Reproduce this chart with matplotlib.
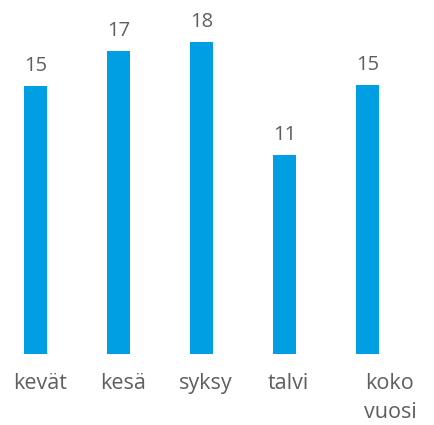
import matplotlib
matplotlib.use('Agg')
from matplotlib import pyplot as plt
import numpy as np

plt.rcParams['font.family'] = ['Open Sans', 'DejaVu Sans']

# categories and values
categories = ['kevät', 'kesä', 'syksy', 'talvi', 'koko\nvuosi']
values = [15.2, 17.2, 17.7, 11.3, 15.3]
value_labels = ['15', '17', '18', '11', '15']

bar_color = '#009fe3'
text_color = '#5f5f5f'

fig = plt.figure(figsize=(4.35, 4.25), dpi=100)
ax = fig.add_axes([0, 0, 1, 1])

x = np.arange(len(categories))
bars = ax.bar(x, values, width=0.277, color=bar_color)

# value labels above the bars
for b, lab in zip(bars, value_labels):
    ax.annotate(lab, (b.get_x() + b.get_width() / 2, b.get_height()),
                xytext=(0, 10), textcoords='offset pixels',
                ha='center', va='bottom', fontsize=14.5, color=text_color)

# category labels below, a bit right of the bars as in the original
shift = [0.055, 0.055, 0.055, 0.045, 0.27]
for i, (cat, s) in enumerate(zip(categories, shift)):
    ax.text(i + s, -1.05, cat, ha='center', va='top', fontsize=15.5,
            color=text_color, linespacing=1.5)

ax.set_xlim(-0.428, 4.813)
ax.set_ylim(-4.03, 20.11)
ax.axis('off')

fig.savefig('out.png', dpi=100)
